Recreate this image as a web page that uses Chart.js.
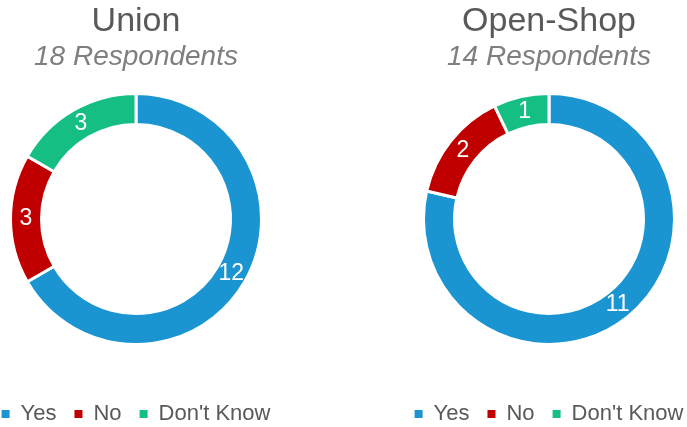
<!DOCTYPE html>
<html>
<head>
<meta charset="utf-8">
<script src="https://cdn.jsdelivr.net/npm/chart.js@4/dist/chart.umd.min.js"></script>
<style>
  html, body { margin: 0; padding: 0; background: #fff; }
  body { width: 687px; height: 427px; overflow: hidden; position: relative; }
  canvas { position: absolute; top: 0; }
  #unionChart { left: -24px; }
  #openShopChart { left: 389px; }
</style>
</head>
<body>
<canvas id="unionChart" width="320" height="435"></canvas>
<canvas id="openShopChart" width="320" height="435"></canvas>
<script>
// Survey answers per group
const categories = ["Yes", "No", "Don't Know"];
const unionCounts = [12, 3, 3];
const openShopCounts = [11, 2, 1];
const groupNames = ["Union", "Open-Shop"];
const sliceColors = ["#1A95D1", "#C00000", "#15BF84"];

const FONT = "'Liberation Sans', Arial, sans-serif";

// Draw the count in the middle of each slice
const sliceLabels = {
  id: "sliceLabels",
  afterDatasetsDraw(chart) {
    const ctx = chart.ctx;
    const meta = chart.getDatasetMeta(0);
    ctx.save();
    ctx.font = "23px " + FONT;
    ctx.fillStyle = "#ffffff";
    ctx.textAlign = "center";
    ctx.textBaseline = "middle";
    meta.data.forEach((arc, i) => {
      const pos = arc.tooltipPosition();
      ctx.fillText(String(chart.data.datasets[0].data[i]), pos.x, pos.y);
    });
    ctx.restore();
  },
};

function makeDoughnut(canvasId, title, counts) {
  const total = counts.reduce((a, b) => a + b, 0);
  const ctx = document.getElementById(canvasId).getContext("2d");
  return new Chart(ctx, {
    type: "doughnut",
    data: {
      labels: categories,
      datasets: [
        {
          data: counts,
          backgroundColor: sliceColors,
          borderColor: "#ffffff",
          borderWidth: 3,
        },
      ],
    },
    options: {
      responsive: false,
      animation: false,
      radius: 125.5,
      cutout: "75.3%",
      plugins: {
        tooltip: { enabled: false },
        title: {
          display: true,
          text: title,
          color: "#595959",
          font: { family: FONT, size: 34, weight: "normal", lineHeight: "44px" },
          padding: 0,
        },
        subtitle: {
          display: true,
          text: total + " Respondents",
          color: "#7F7F7F",
          font: { family: FONT, size: 28, style: "italic", lineHeight: "26px" },
          padding: 0,
        },
        legend: {
          position: "bottom",
          title: {
            display: true,
            text: " ",
            padding: 0,
            font: { size: 10, lineHeight: "17px" },
          },
          labels: {
            color: "#595959",
            font: { family: FONT, size: 22 },
            boxWidth: 8,
            boxHeight: 8,
            padding: 18,
            generateLabels: (chart) =>
              Chart.overrides.doughnut.plugins.legend.labels
                .generateLabels(chart)
                .map((item) => ({ ...item, lineWidth: 0 })),
          },
        },
      },
    },
    plugins: [sliceLabels],
  });
}

makeDoughnut("unionChart", groupNames[0], unionCounts);
makeDoughnut("openShopChart", groupNames[1], openShopCounts);
</script>
</body>
</html>
